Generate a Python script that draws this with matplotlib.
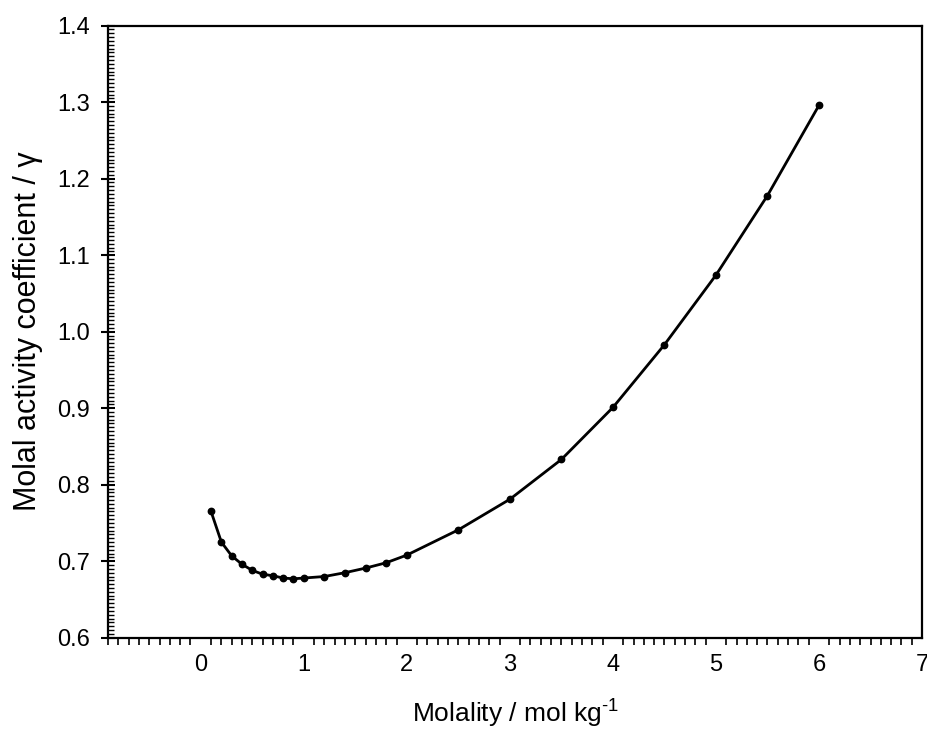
import numpy as np
import matplotlib
matplotlib.use("Agg")
import matplotlib.pyplot as plt
from matplotlib.ticker import MultipleLocator, FixedLocator

plt.rcParams["font.family"] = ["Liberation Sans", "DejaVu Sans"]
plt.rcParams["mathtext.fontset"] = "custom"
plt.rcParams["mathtext.rm"] = "Liberation Sans"

# Molality (mol/kg) and activity coefficient
molality = [0.1, 0.2, 0.3, 0.4, 0.5, 0.6, 0.7, 0.8, 0.9, 1.0,
            1.2, 1.4, 1.6, 1.8, 2.0, 2.5, 3.0, 3.5, 4.0, 4.5,
            5.0, 5.5, 6.0]
gamma = [0.765, 0.725, 0.707, 0.696, 0.688, 0.683, 0.681, 0.678, 0.677, 0.678,
         0.680, 0.685, 0.691, 0.698, 0.708, 0.741, 0.781, 0.833, 0.901, 0.983,
         1.074, 1.178, 1.296]

x_ticks = [0, 1, 2, 3, 4, 5, 6, 7]
y_ticks = [0.6, 0.7, 0.8, 0.9, 1.0, 1.1, 1.2, 1.3, 1.4]

fig = plt.figure(figsize=(9.28, 7.33), dpi=100)
ax = fig.add_axes([0.1164, 0.130, 0.8772, 0.835])

ax.plot(molality, gamma, "-", color="black", linewidth=2.0)
ax.plot(molality, gamma, "o", color="black", markersize=4.6)

ax.set_xlim(-0.9, 7)
ax.set_ylim(0.6, 1.4)

ax.xaxis.set_major_locator(FixedLocator(x_ticks))
ax.set_xticklabels([str(v) for v in x_ticks])
minor_x = [round(v, 1) for v in np.arange(-0.9, 7.0, 0.1) if abs(v - round(v)) > 1e-6]
ax.xaxis.set_minor_locator(FixedLocator(minor_x))
ax.yaxis.set_major_locator(FixedLocator(y_ticks))
ax.set_yticklabels([f"{v:.1f}" for v in y_ticks])
ax.yaxis.set_minor_locator(MultipleLocator(0.005))

ax.tick_params(axis="x", which="major", length=0, pad=12, labelsize=17)
ax.tick_params(axis="x", which="minor", direction="out", length=5, width=1.2)
ax.tick_params(axis="y", which="major", direction="inout", length=10, width=1.5,
               pad=8, labelsize=17)
ax.tick_params(axis="y", which="minor", direction="in", length=4, width=1.0)

for side in ["left", "bottom", "top", "right"]:
    ax.spines[side].set_linewidth(1.6)

ax.set_xlabel(r"Molality / mol kg$^{\text{-1}}$", fontsize=19, labelpad=14)
ax.set_ylabel("Molal activity coefficient / \u03b3", fontsize=22, labelpad=10)

fig.savefig("out.png", dpi=100)
